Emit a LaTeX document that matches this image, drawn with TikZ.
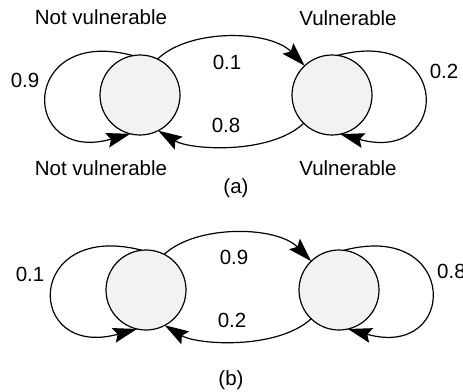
\documentclass[tikz,border=0pt]{standalone}
\usepackage{fontspec}
\setmainfont{Liberation Sans}
\usetikzlibrary{arrows.meta}
\begin{document}
\begin{tikzpicture}[x=1pt,y=-1pt,
  state/.style={circle,draw,line width=1.2pt,fill=black!5,minimum size=80pt,inner sep=0pt,outer sep=0pt},
  edge/.style={line width=1.2pt,-{Stealth[length=24pt,width=15pt,inset=4pt]}},
  lbl/.style={font=\fontsize{20.5}{24}\selectfont,inner sep=0pt}]
\useasboundingbox (0,0) rectangle (463,391);

% ---------- (a) ----------
\node[state] (A1) at (140,95) {};
\node[state] (A2) at (332,95) {};

\node[lbl] (ta1) at (101,17) {Not vulnerable};
\node[lbl] (ba1) at (101,168) {Not vulnerable};
\node[lbl] (ta2) at (348,18) {Vulnerable};
\node[lbl] (ba2) at (348,168) {Vulnerable};

\draw[edge] (A1.100) .. controls (19,25) and (19,165) .. (A1.256);
\draw[edge] (A2.82) .. controls (452,25) and (452,165) .. (A2.282);
\draw[edge] (A1.64) .. controls (190,28) and (270,30) .. (A2.133);
\draw[edge] (A2.225) .. controls (270,155) and (190,150) .. (A1.297);

\node[lbl] (pa1) at (25,80) {0.9};
\node[lbl] (pa2) at (227,62) {0.1};
\node[lbl] (pa3) at (226,125) {0.8};
\node[lbl] (pa4) at (444,71) {0.2};
\node[lbl] (capa) at (236,188) {(a)};

% ---------- (b) ----------
\node[state] (B1) at (146,290) {};
\node[state] (B2) at (339,290) {};

\draw[edge] (B1.96) .. controls (24,220) and (24,360) .. (B1.257);
\draw[edge] (B2.83) .. controls (459,220) and (459,360) .. (B2.283);
\draw[edge] (B1.63) .. controls (197,224) and (277,226) .. (B2.134);
\draw[edge] (B2.226) .. controls (277,350) and (197,345) .. (B1.298);

\node[lbl] (pb1) at (30,274) {0.1};
\node[lbl] (pb2) at (234,257) {0.9};
\node[lbl] (pb3) at (232,320) {0.2};
\node[lbl,anchor=west] (pb4) at (437,271) {0.8};
\node[lbl] (capb) at (231,380) {(b)};
\end{tikzpicture}
\end{document}
